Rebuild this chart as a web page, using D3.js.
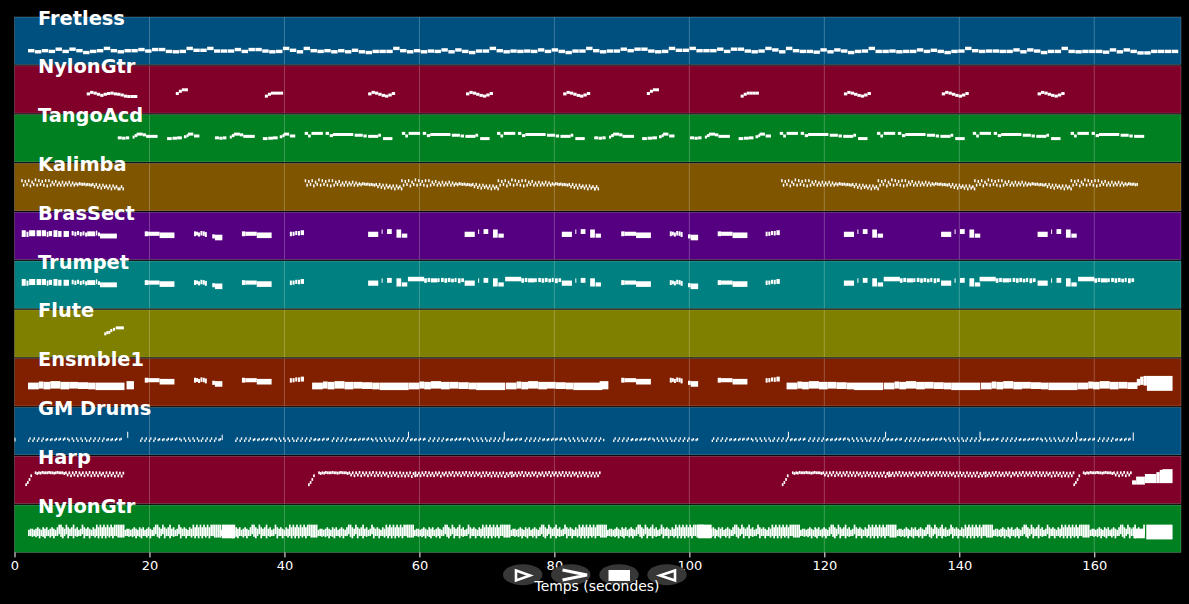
<!DOCTYPE html>
<html lang="en">
<head>
<meta charset="UTF-8">
<title>Piano roll</title>
<script src="https://d3js.org/d3.v7.min.js"></script>
<style>
  body { margin: 0; background: #000; }
  svg { display: block; }
  text { font-family: "DejaVu Sans", sans-serif; fill: #fff; }
  .tick line { stroke: #fff; }
  .tick text { font-size: 13px; }
  .name { font-size: 19.4px; font-weight: bold; }
</style>
</head>
<body>
<svg id="chart" width="1189" height="604"></svg>
<script>
// notes are [start, duration, pitch] or [start, duration, lowPitch, highPitch] for a close chord
const trackNames = ["Fretless", "NylonGtr", "TangoAcd", "Kalimba", "BrasSect", "Trumpet", "Flute", "Ensmble1", "GM Drums", "Harp", "NylonGtr"];
const trackColors = ["#00507f", "#80002a", "#008020", "#805500", "#550080", "#008080", "#808000", "#802000", "#00507f", "#80002a", "#008020"];
const noteHeights = [3.4, 3, 3, 3, 3, 3, 3, 3, 2.4, 2.8, 3.6];
const tickValues = [0, 20, 40, 60, 80, 100, 120, 140, 160];

const fretlessPitches = [38,35,38,36,42,36,42,38,33,36,38,44, 38,35,38,38,41,37,41,41,36,35,36,44,
  39,39,44,37,37,37,41,36,41,41,37,35,36,44, 39,35,44,38,36,38,35,38,35,39,35,33,36,36,36,44,38,
  35,38,35,37,36,40,35,40,36,33,37,37,44,38,35,37,36,37,36,40,36,40,36,33,37,37,44,38,35,37,37,42,38,42,42,37,35,36,44,39,39,44,38,38,38,42,36,42,42,37,35,37,44,40,35,44,38,36,
  36,34,40,35,40,37,33,36,37,44,36,36,37,35,36,36,40,36,39,36,33,36,37,44,38,36,37,37,36,36,40,35,40,37,33,36,36,44,36,35,36,36,36,34,40,35,40,36,32,32,36,36,36,36];

const nylonLong = [53,57,55,52,49,52,54,55,53,52,50,47,46,46,46];
const nylonWave = [53,57,55,52,49,47,50,54];
const nylonRise = [54,60,64,64];
const nylonFlat = [47,52,55,55,55,55];
const nylonWaveAt = [52.4, 66.9, 81.3, 122.9, 137.4, 151.6];

const tangoA = [[0,.6,66],[.65,.5,65],[1.2,.5,66],[2.2,.3,68],[2.5,.4,72],[2.8,.9,76],[3.7,.5,74],[4.2,1.7,70]];
const tangoB = [[0,.7,64],[.8,.7,65],[1.5,.7,66],[2.5,.4,69],[2.9,.3,72],[3.1,.8,76],[4,.8,71]];
const tangoC = [[0,.5,78],[.5,.4,71],[1,1.7,78],[3.1,.5,78],[3.7,.5,72],[4.2,3,75],[7.4,1.2,73],[8.7,.5,71],[9.4,1.5,70],[10.9,.4,73],[11.6,1.4,64]];
const tangoAAt = [15.3, 29.7, 85.9, 100.1];
const tangoBAt = [22.6, 36.8, 93, 107.3];
const tangoCAt = [43, 57.4, 71.5, 113.4, 127.8, 142, 156.5];
const tangoCEnd = [99, 99, 99, 999, 999, 999, 167.2];

const kalimbaPitches = [82,70,80,72,82,68,78,72,84,70,82,72,80,70,82,68,82,70,78,72,80,70,76,
  70,78,70,76,71,78,70,76,70,74,71,74, 73,72,73,71,72,71,70,72,
  66,72,64,70,62,70,64,68,62,68,60,68,62,66,60];
const kalimbaTail = [60,66,60];
const kalimbaAt = [1, 43, 57.3, 71.6, 113.6, 127.9, 142.2, 156.5];
const kalimbaEnd = [999, 999, 999, 999, 999, 999, 999, 166.4];
const kalimbaTailAt = [15.5, 85.9];

const brassP = [[0,.6,66,76],[.7,.3,66,72],[1.1,.9,68,76],[2.2,.7,68,76],[3,.6,68,76],[3.7,.25,66,72],[4,.5,68,74],[4.7,.6,66,76],[5.4,.5,66,74],[6.2,.8,66,74],
  [7.4,.3,70,74],[7.8,.3,68,72],[8.2,.3,71,74],[8.6,.3,68,71],[9,.3,70,73],[9.4,.3,67,70],[9.7,1.2,68,73],[11,.2,70,75],[11.3,.3,68,70],[11.6,2.5,62,67]];
const brassQ = [[0,.5,68,73],[.5,1.7,69,72],[2.2,2.2,63,70]];
const brassR = [[0,.3,68,73],[.3,.3,70,72],[.6,.3,67,70],[.95,.3,70,74],[1.3,.3,69,73],[1.6,.3,66,71]];
const brassS = [[0,.4,62,65],[.4,1.1,57,64]];
const brassT = [[0,.3,68,72],[.4,.3,69,72],[.8,.3,71,74],[1.2,.3,70,74],[1.6,.5,71,76]];
const brassU = [[0,1.5,66,72],[2,.15,74,78],[2.8,.7,74,79],[4.2,.7,64,78],[5,.8,64,67]];
const brassQAt = [19.3, 33.7, 89.9, 104.2];
const brassRAt = [26.6, 97.1];
const brassSAt = [29.3, 99.8];
const brassTAt = [40.8, 111.3];
const brassUAt = [52.4, 66.7, 81.1, 122.9, 137.3, 151.6];

const trumpetV = [[0,2.4,78,82],[2.4,.4,74,78],[2.9,.4,76,79],[3.4,1,75,78],[4.4,.3,76,78],[4.9,.4,76,79],[5.4,.4,74,78],[5.9,.4,76,79],[6.4,.4,75,77],[6.9,.3,76,79],[7.4,.4,73,78],[7.9,.4,76,78]];
const trumpetVAt = [58.3, 72.7, 128.8, 143, 157.6];

const fluteNotes = [[13.3,.3,64],[13.6,.3,67],[13.9,.3,68],[14.2,.3,73],[14.6,.3,76],[15,1.2,80]];

const ensembleE = [[0,1.6,50,60],[1.6,.7,52,63],[2.3,1,50,62],[3.3,1.5,52,64],[4.8,1.3,50,62],[6.1,1.3,52,62],[7.4,1.5,51,61],[8.9,1.1,50,60],[10,4.3,48,60]];
const ensembleAt = [2, 44.1, 58.4, 72.8, 114.4, 128.8, 143.2, 157.5];
const ensembleEnd = [999, 999, 999, 999, 999, 999, 999, 166.3];
const ensembleExtra = [[16.6,1.1,50,64],[86.7,1.3,50,64],[166.3,.5,60,70],[166.8,.5,62,76],[167.3,.5,60,78],[167.8,3.8,46,78]];

// offset, first hit pitch, second hit pitch
const drumHits = [[0,39,45],[.64,39,45],[1.3,39,45],[1.95,39,45],[2.6,41,43],[3.25,41,43],[3.9,41,44],[4.5,42,44],[5.15,42,45],[5.8,44,40],[6.45,45,39],[7.1,45,39],[7.75,45,39],[8.4,45,39],[9,39,45],[9.65,39,45],[10.3,39,45],[10.95,39,45],[11.6,41,43],[12.2,41,43],[12.85,41,44],[13.5,42,44]];
const drumBarAt = [2, 18.6, 32.7, 47, 61.3, 75.6, 88.7, 103.3, 117.6, 131.9, 146.2, 160.5];
const drumBarEnd = [16.3, 30.7, 47, 61.3, 75.6, 87.2, 101.3, 117.6, 131.9, 146.2, 160.5, 165.5];
const drumAccents = [[0,.15,40,44],[16.7,.15,50,60],[30.7,.15,44,52],[58.3,.15,50,60],[72.5,.15,50,60],[114.6,.15,50,60],[129,.15,50,60],[143,.15,50,60],[157.3,.15,50,60],[165.7,.15,42,58]];

const harpRise = [52,58,66,76];
const harpRiseAt = [1.6, 43.5, 113.7, 156.9];
const harpOpening = [84,82,84,83,85,84,84,84,85,84,84,83,84,85,84,84,84,82,84,78,84,76,84,78,85,76,84,78,84,76,84,78,85,76,84,77,84,76,84,78,83,75,84,76,84,77,83,75,84,76,83,75,83,76,84,74,82,76];
const harpOpeningAt = [3, 45, 115.2, 158.3];
const harpOpeningEnd = [16.2, 59.3, 129.5, 165.4];
const harpZig = [84,77,83,76,84,78,85,76,84,77,83,76,84,78,84,75,83,78,84,76,84,78,85,76,84,78,84,76,84,78,85,76,84,77,84,76,84,78,83,75,84,76,84,77,83,75,84,76,83,75,83,76,84,74,82,76,83,75];
const harpZigAt = [59.3, 73.6, 129.5, 143.8];
const harpZigEnd = [73.6, 86.7, 143.8, 156.9];
const harpEnding = [[165.6,.6,56,60],[166.2,1.3,56,70],[167.5,1.7,60,77],[169.2,.5,60,82],[169.7,.5,60,88],[170.1,1.5,60,90]];

const guitarHigh = [57,60,60,57,60,64,60,57,64,60,64,57,60,64,60,57,64,71,71,64,60,71,64,60,64,71,60,64,57,60,71,64,60,64,60,57,64,60,71,64,71,64,71,64,71,64,71,64,71,71,71,71,71,71];
const guitarLow = [50,50,48,50,47,50,44,50,48,44,50,50,46,50,44,50,50,55,48,44,50,55,44,50,50,44,50,48,50,50,55,44,50,50,44,50,50,46,50,44,50,44,50,44,50,46,50,44,50,50,46,46,46,46];
const guitarAt = [2, 16.3, 30.6, 44.9, 59.2, 73.5, 87.8, 102.1, 116.4, 130.7, 145, 159.3];
const guitarEnd = [999, 999, 999, 999, 999, 999, 999, 999, 999, 999, 999, 167.4];
const guitarBlocks = [[30.7,2,44,71],[101.3,2,44,71],[165.8,1.7,44,60],[167.7,3.9,41,71]];

// helpers to lay the read-off phrases out on the time line
const steps = (step, dur, pitches) => pitches.map((p, i) => [i * step, dur, p]);
const place = (notes, onsets, ends) => onsets.flatMap((t, i) =>
  notes.map(n => [n[0] + t, ...n.slice(1)]).filter(n => !ends || n[0] < ends[i]));

const brassCommon = [
  ...place(brassP, [1.07]), ...place(brassQ, brassQAt), ...place(brassR, brassRAt),
  ...place(brassS, brassSAt), ...place(brassT, brassTAt)
];

const trackNotes = [
  place(steps(1.021, .95, fretlessPitches), [2]),
  [...place(steps(.5, .5, nylonLong), [10.7]), ...place(steps(.5, .5, nylonWave), nylonWaveAt),
   ...place(steps(.45, .45, nylonRise), [23.9, 93.7]), ...place(steps(.45, .45, nylonFlat), [37.1, 107.6])],
  [...place(tangoA, tangoAAt), ...place(tangoB, tangoBAt), ...place(tangoC, tangoCAt, tangoCEnd)],
  [...place(steps(.25, .22, kalimbaPitches), kalimbaAt, kalimbaEnd), ...place(steps(.25, .22, kalimbaTail), kalimbaTailAt)],
  [...brassCommon, ...place(brassU, brassUAt)],
  [...brassCommon, ...place(brassU, brassUAt), ...place(trumpetV, trumpetVAt)],
  fluteNotes,
  [...place(brassQ, brassQAt), ...place(brassR, brassRAt), ...place(brassS, brassSAt), ...place(brassT, brassTAt),
   ...place(ensembleE, ensembleAt, ensembleEnd), ...ensembleExtra],
  [...place(drumHits.flatMap(h => [[h[0], .2, h[1]], [h[0] + .2, .2, h[2]]]), drumBarAt, drumBarEnd), ...drumAccents],
  [...place(steps(.25, .25, harpRise), harpRiseAt), ...place(steps(.25, .25, harpOpening), harpOpeningAt, harpOpeningEnd),
   ...place(steps(.25, .25, harpZig), harpZigAt, harpZigEnd), ...harpEnding],
  [...place(guitarHigh.map((p, i) => [i * .265, .25, guitarLow[i], p]), guitarAt, guitarEnd), ...guitarBlocks]
];

const svg = d3.select("#chart");
const x = d3.scaleLinear().domain([0, 172.85]).range([14.5, 1181]);
const band = d3.scaleBand().domain(d3.range(trackNames.length)).range([17, 552.4]).paddingInner(0.03);
const y = d3.scaleLinear().domain([0, 127]).range([band.bandwidth() + 0.5, 0.5]);

const rows = svg.selectAll(".row").data(trackNames).enter().append("g")
  .attr("class", "row")
  .attr("transform", (d, i) => `translate(0,${band(i)})`);

rows.append("rect")
  .attr("x", x(0)).attr("width", x.range()[1] - x(0))
  .attr("height", band.bandwidth())
  .attr("fill", (d, i) => trackColors[i])
  .attr("stroke", "#fff").attr("stroke-opacity", 0.35).attr("stroke-width", 0.6);

rows.selectAll(".grid").data(tickValues.slice(1)).enter().append("line")
  .attr("class", "grid")
  .attr("x1", d => x(d)).attr("x2", d => x(d))
  .attr("y1", 0).attr("y2", band.bandwidth())
  .attr("stroke", "#fff").attr("stroke-opacity", 0.3).attr("stroke-width", 0.8);

rows.each(function (d, i) {
  const h = noteHeights[i];
  d3.select(this).selectAll(".note").data(trackNotes[i]).enter().append("rect")
    .attr("class", "note")
    .attr("x", n => x(n[0]))
    .attr("width", n => x(n[0] + n[1]) - x(n[0]))
    .attr("y", n => y(n.length > 3 ? n[3] : n[2]) - h / 2)
    .attr("height", n => (n.length > 3 ? y(n[2]) - y(n[3]) : 0) + h)
    .attr("fill", "#fff");
});

svg.append("g")
  .attr("transform", `translate(0,${band(10) + band.bandwidth()})`)
  .call(d3.axisBottom(x).tickValues(tickValues).tickFormat(d3.format("d")).tickSize(5).tickPadding(3))
  .call(g => g.select(".domain").remove());

// the four player buttons sit over the axis
const buttons = svg.append("g");
[522.7, 570.7, 619, 667].forEach(cx => {
  buttons.append("ellipse").attr("cx", cx).attr("cy", 574.7).attr("rx", 19.7).attr("ry", 10.5)
    .attr("fill", "#3a3a3a").attr("fill-opacity", 0.95);
});
svg.append("text").attr("x", 597).attr("y", 591).attr("text-anchor", "middle")
  .style("font-size", "13.9px").text("Temps (secondes)");
buttons.append("path").attr("d", "M516,570.5 L530,575.5 L516,580.5 Z")
  .attr("fill", "none").attr("stroke", "#fff").attr("stroke-width", 2.6);
buttons.append("path").attr("d", "M562.5,570 L587,575 L562.5,580")
  .attr("fill", "none").attr("stroke", "#fff").attr("stroke-width", 3);
buttons.append("rect").attr("x", 608.5).attr("y", 570).attr("width", 21.5).attr("height", 11).attr("fill", "#fff");
buttons.append("path").attr("d", "M675,570.5 L660,575.5 L675,580.5 Z")
  .attr("fill", "none").attr("stroke", "#fff").attr("stroke-width", 2.6);

rows.append("text").attr("class", "name").attr("x", 38).attr("y", 7.5).text(d => d);
</script>
</body>
</html>
